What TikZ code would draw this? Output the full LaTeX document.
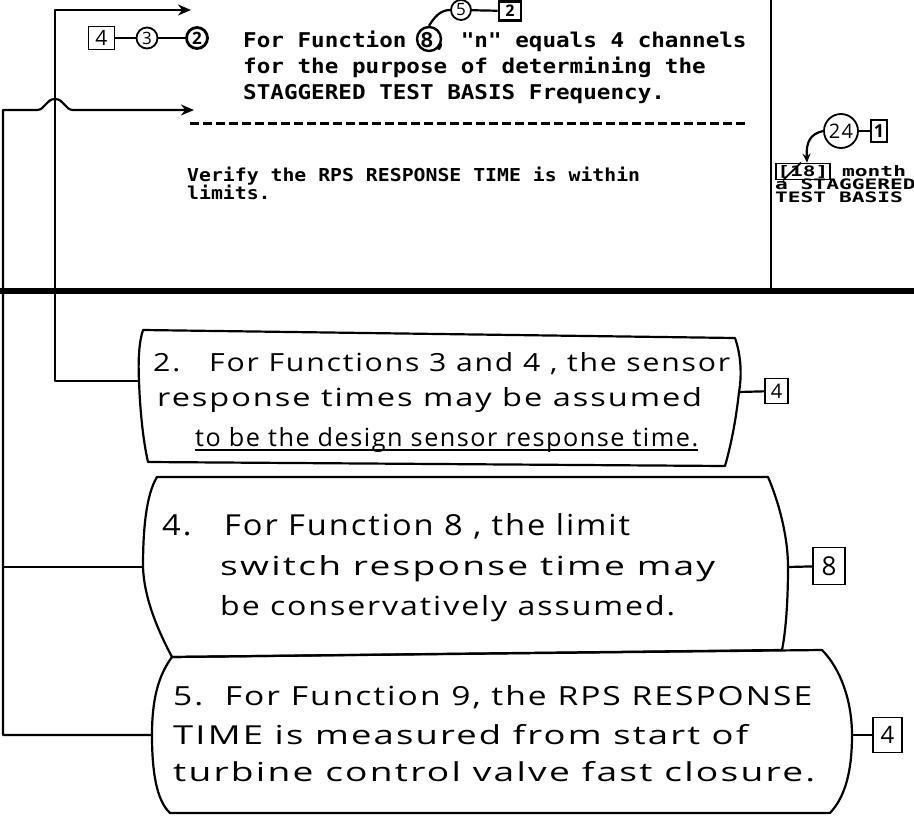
\documentclass[tikz,border=0pt]{standalone}
\usepackage{fontspec}
\usepackage{graphicx}
\usetikzlibrary{arrows.meta,calc}
\newfontfamily\tw{DejaVu Sans Mono}[Ligatures=TeXOff]
\newfontfamily\hwf{Open Sans}[LetterSpace=6]
\newcommand\hwline[3]{\resizebox{#1pt}{#2pt}{\hwf\fontsize{25}{25}\selectfont #3}}
\newcommand\tws[1]{\scalebox{1}[0.9]{#1}}
\newcommand\twr[1]{\scalebox{1}[0.68]{#1}}
\begin{document}
\begin{tikzpicture}[x=1pt,y=-1pt,
  conn/.style={line width=2.2pt, line join=round},
  hwbox/.style={line width=2.2pt, line join=round},
  typed/.style={inner sep=0pt, anchor=base west, font=\tw\bfseries\fontsize{22.6}{26}\selectfont},
  typedb/.style={inner sep=0pt, anchor=base west, font=\tw\bfseries\fontsize{19.8}{17}\selectfont},
  typedc/.style={inner sep=0pt, anchor=base west, font=\tw\bfseries\fontsize{21.2}{13}\selectfont},
  hw/.style={inner sep=0pt, anchor=base west},
  circ/.style={draw, circle, line width=1.8pt, inner sep=0pt, font=\hwf\fontsize{17}{17}\selectfont},
  sqtag/.style={draw, rectangle, line width=1.8pt, inner sep=0pt, font=\hwf\fontsize{20}{20}\selectfont},
  arr/.style={-{Stealth[length=13pt,width=11pt]}}
]
\useasboundingbox (0,0) rectangle (914,817);

% table rules
\draw[line width=6pt] (0,291) -- (914,291);
\draw[line width=2pt] (771,0) -- (771,291);

% typed text
\node[typed] (ta) at (243,47) {\tws{For Function 8, "n" equals 4 channels}};
\node[typed] (tb) at (243,73) {\tws{for the purpose of determining the}};
\node[typed] (tc) at (243,99) {\tws{STAGGERED TEST BASIS Frequency.}};
\node[typedb] (va) at (187,181) {\tws{Verify the RPS RESPONSE TIME is within}};
\node[typedb] (vb) at (187,199) {\tws{limits.}};

% dashed separator
\coordinate (dA) at (190,123);
\coordinate (dB) at (745,123);
\draw[line width=3pt, dash pattern=on 9pt off 4pt] (dA) -- (dB);

% top-left markers
\node[sqtag, minimum width=26pt, minimum height=23pt, font=\hwf\fontsize{21}{21}\selectfont] (m4) at (101.5,38) {4};
\node[circ, minimum size=21pt] (m3) at (147,38) {3};
\node[circ, minimum size=21pt, line width=2.8pt, font=\hwf\bfseries\fontsize{17}{17}\selectfont] (m2) at (197,38) {2};
\draw[conn] (m4) -- (m3);
\draw[conn] (m3) -- (m2);

% circled 8 and chain
\node[circ, minimum size=24pt, line width=2.4pt] (c8) at (429,39) {};
\node[circ, minimum size=20pt] (c5) at (461,10) {5};
\node[sqtag, minimum width=22pt, minimum height=19pt, line width=2.6pt, font=\hwf\bfseries\fontsize{16}{16}\selectfont] (s2) at (510,11) {2};
\draw[conn] (c8.north) .. controls (435,16) and (441,10) .. (c5.west);
\draw[conn] (c5) -- (s2);

% right column
\node[circ, minimum size=34pt, font=\hwf\fontsize{20}{20}\selectfont] (c24) at (841,131) {24};
\node[sqtag, minimum width=16pt, minimum height=22pt, font=\hwf\bfseries\fontsize{18}{18}\selectfont] (s1) at (879,131) {1};
\draw[conn] (c24) -- (s1);
\node[typedc, draw, line width=1.8pt, inner sep=1.5pt] (s18) at (775,176) {\twr{[18]}};
\draw[line width=1.8pt] ([xshift=8pt]s18.south west) -- ([xshift=26pt]s18.north west);
\draw[conn, -{Stealth[length=9pt,width=8pt]}] (c24.west) .. controls (810,134) and (806,142) .. ([xshift=32pt]s18.north west);
\begin{scope}
\clip (772,150) rectangle (914,215);
\node[typedc] (r1) at (842,176) {\twr{month}};
\node[typedc] (r2) at (775,189) {\twr{a STAGGERED}};
\node[typedc] (r3) at (775,202) {\twr{TEST BASIS}};
\end{scope}

% connector points on boxes
\coordinate (b2L) at (139,381);
\coordinate (b2R) at (739,392);
\coordinate (b4L) at (143,567);
\coordinate (b4R) at (788,567);
\coordinate (b5L) at (152,735);
\coordinate (b5R) at (852,735);
\coordinate (arrA) at (191,10);
\coordinate (arrB) at (194,110);

% box 2
\draw[hwbox] (143,330) -- (735,338)
  .. controls (741,355) and (742,375) .. (b2R)
  .. controls (736,420) and (731,445) .. (725,466)
  -- (148,462)
  .. controls (143,440) and (140,410) .. (b2L)
  .. controls (138,360) and (139,342) .. (143,330) -- cycle;
% box 4
\draw[hwbox] (157,477) -- (768,477)
  .. controls (778,500) and (788,535) .. (b4R)
  .. controls (788,600) and (786,630) .. (782,650)
  -- (172,657)
  .. controls (155,625) and (144,595) .. (b4L)
  .. controls (143,530) and (146,495) .. (157,477) -- cycle;
% box 5
\draw[hwbox] (172,657) -- (822,650)
  .. controls (840,668) and (852,700) .. (b5R)
  .. controls (852,772) and (845,797) .. (830,813)
  -- (170,813)
  .. controls (156,800) and (152,770) .. (b5L)
  .. controls (152,700) and (158,676) .. (172,657) -- cycle;

% tags beside boxes
\node[sqtag, minimum width=23pt, minimum height=25pt] (t4a) at (776.5,391) {4};
\node[sqtag, minimum width=32pt, minimum height=37pt, font=\hwf\fontsize{26}{26}\selectfont] (t8) at (829,566) {8};
\node[sqtag, minimum width=29pt, minimum height=35pt, font=\hwf\fontsize{24}{24}\selectfont] (t4b) at (887.5,735) {4};
\draw[conn] (b2R) -- (t4a);
\draw[conn] (b4R) -- (t8);
\draw[conn] (b5R) -- (t4b);

% left connectors
\draw[conn, arr] (b2L) -- (55,381) -- (55,10) -- (arrA);
\draw[conn, arr] (b5L) -- (3,735) -- (3,110) -- (37,110)
  .. controls (45,110) and (46,99) .. (55,99)
  .. controls (64,99) and (65,110) .. (73,110) -- (arrB);
\draw[conn] (b4L) -- (3,567);

% handwritten notes
\node[hw] (n2a) at (153,371) {\hwline{577}{19}{2.\ \ \ For Functions 3 and 4 , the sensor}};
\node[hw] (n2b) at (157,406) {\hwline{545}{19}{response times may be assumed}};
\node[hw] (n2c) at (195,446) {\hwline{503}{19}{to be the design sensor response time.}};
\draw[line width=1.5pt] ([yshift=-4pt]n2c.base west) -- ([yshift=-4pt]n2c.base east);

\node[hw] (n4a) at (162,535) {\hwline{468}{22}{4.\quad For Function 8 , the limit}};
\node[hw] (n4b) at (220,575) {\hwline{495}{20}{switch response time may}};
\node[hw] (n4c) at (220,615) {\hwline{455}{20}{be conservatively assumed.}};

\node[hw] (n5a) at (173,705) {\hwline{639}{20}{5.\ \ For Function 9, the RPS RESPONSE}};
\node[hw] (n5b) at (173,744) {\hwline{575}{20}{TIME is measured from start of}};
\node[hw] (n5c) at (173,781) {\hwline{642}{20}{turbine control valve fast closure.}};
\end{tikzpicture}
\end{document}
